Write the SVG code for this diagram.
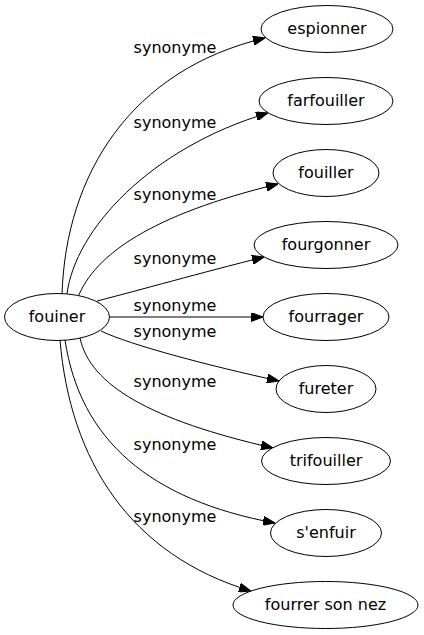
<svg xmlns="http://www.w3.org/2000/svg" width="424" height="635" viewBox="0 0 424 635">
<defs>
<marker id="arr" viewBox="0 0 12 9" refX="12" refY="4.5" markerWidth="12" markerHeight="9" markerUnits="userSpaceOnUse" orient="auto">
<path d="M0,0 L12,4.5 L0,9 z" fill="#000" stroke="#000" stroke-width="1"/>
</marker>
<style>
.e{fill:none;stroke:#000;stroke-width:1;marker-end:url(#arr)}
.n ellipse{fill:#fff;stroke:#000;stroke-width:1}
text{font-family:"DejaVu Sans",sans-serif;font-size:16px;fill:#000;text-anchor:middle}
</style>
</defs>
<rect width="424" height="635" fill="#fff"/>
<g id="connectors">
<path class="e" d="M62,294 C66,175 130,70 265,38"/>
<path class="e" d="M67,294 C75,230 150,148 268,113"/>
<path class="e" d="M78,297 C95,255 150,215 278,184"/>
<path class="e" d="M97,301 C140,290 200,273 264,257"/>
<path class="e" d="M110,317 L263,317"/>
<path class="e" d="M101,331 C130,345 210,366 279,381"/>
<path class="e" d="M80,338 C90,385 150,420 273,448"/>
<path class="e" d="M65,340 C80,440 150,500 275,523"/>
<path class="e" d="M60,340 C70,460 130,555 251,591"/>
<text x="175" y="53">synonyme</text>
<text x="175" y="128">synonyme</text>
<text x="175" y="200">synonyme</text>
<text x="175" y="264">synonyme</text>
<text x="175" y="311">synonyme</text>
<text x="175" y="337">synonyme</text>
<text x="175" y="387">synonyme</text>
<text x="175" y="450">synonyme</text>
<text x="175" y="522">synonyme</text>
</g>
<g id="fouiner" class="n"><ellipse cx="57" cy="317" rx="52.5" ry="23.5"/><text x="57" y="322">fouiner</text></g>
<g id="espionner" class="n"><ellipse cx="327" cy="29" rx="66" ry="23.5"/><text x="327" y="34">espionner</text></g>
<g id="farfouiller" class="n"><ellipse cx="326" cy="101" rx="67" ry="23.5"/><text x="326" y="106">farfouiller</text></g>
<g id="fouiller" class="n"><ellipse cx="326" cy="173" rx="53" ry="23.5"/><text x="326" y="178">fouiller</text></g>
<g id="fourgonner" class="n"><ellipse cx="326" cy="245" rx="72" ry="23.5"/><text x="326" y="250">fourgonner</text></g>
<g id="fourrager" class="n"><ellipse cx="326" cy="317" rx="63" ry="23.5"/><text x="326" y="322">fourrager</text></g>
<g id="fureter" class="n"><ellipse cx="326" cy="389" rx="50" ry="23.5"/><text x="326" y="394">fureter</text></g>
<g id="trifouiller" class="n"><ellipse cx="326" cy="461" rx="64.5" ry="23.5"/><text x="326" y="466">trifouiller</text></g>
<g id="senfuir" class="n"><ellipse cx="326" cy="533" rx="55.5" ry="23.5"/><text x="326" y="538">s'enfuir</text></g>
<g id="fourrer_son_nez" class="n"><ellipse cx="325.5" cy="605" rx="92.5" ry="23.5"/><text x="325.5" y="610">fourrer son nez</text></g>
</svg>
